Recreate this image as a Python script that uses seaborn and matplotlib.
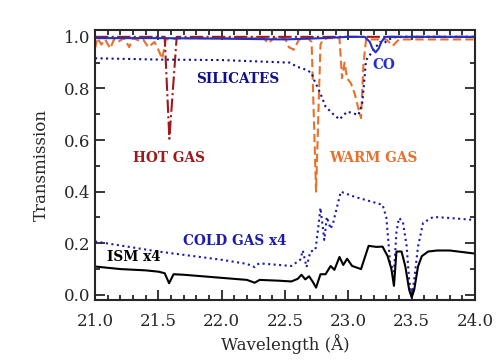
import matplotlib
matplotlib.use("Agg")
import matplotlib.pyplot as plt
from matplotlib.ticker import MultipleLocator
import seaborn as sns

# ISM x4 (black solid)
ism_x = [21.0, 21.2, 21.4, 21.5, 21.55, 21.585, 21.62, 21.7, 21.8, 22.0, 22.2, 22.26, 22.3,
         22.45, 22.55, 22.6, 22.63, 22.66, 22.69, 22.72, 22.745, 22.78, 22.82, 22.86, 22.89,
         22.93, 22.96, 22.99, 23.03, 23.1, 23.16, 23.22, 23.27, 23.31, 23.34, 23.36, 23.38,
         23.42, 23.45, 23.48, 23.5, 23.52, 23.55, 23.58, 23.63, 23.7, 23.8, 24.0]
ism_y = [0.11, 0.10, 0.095, 0.09, 0.084, 0.045, 0.08, 0.078, 0.074, 0.066, 0.058, 0.047, 0.058,
         0.055, 0.052, 0.062, 0.078, 0.06, 0.072, 0.05, 0.028, 0.08, 0.08, 0.112, 0.097,
         0.147, 0.116, 0.14, 0.112, 0.10, 0.19, 0.186, 0.187, 0.15, 0.10, 0.035, 0.168,
         0.168, 0.11, 0.02, -0.01, 0.02, 0.11, 0.15, 0.168, 0.172, 0.172, 0.16]

# COLD GAS x4 (blue dotted)
cold_x = [21.0, 21.5, 22.0, 22.2, 22.26, 22.28, 22.3, 22.55, 22.62, 22.64, 22.67, 22.70, 22.74,
          22.76, 22.78, 22.81, 22.83, 22.86, 22.88, 22.94, 23.05, 23.27, 23.30, 23.33, 23.36,
          23.38, 23.40, 23.43, 23.46, 23.48, 23.50, 23.52, 23.55, 23.59, 23.67, 23.8, 24.0]
cold_y = [0.207, 0.168, 0.136, 0.12, 0.108, 0.118, 0.122, 0.112, 0.136, 0.172, 0.108, 0.168, 0.174,
          0.25, 0.337, 0.213, 0.302, 0.256, 0.279, 0.40, 0.38, 0.349, 0.30, 0.124, 0.09,
          0.245, 0.298, 0.284, 0.19, 0.06, -0.01, 0.06, 0.187, 0.279, 0.302, 0.298, 0.29]

# SILICATES (navy dotted)
sil_x = [21.0, 21.5, 22.0, 22.54, 22.59, 22.67, 22.71, 22.73, 22.78, 22.82, 22.87, 22.93, 22.99,
         23.03, 23.08, 23.11, 23.14, 23.2, 23.25, 23.28, 23.32, 23.36, 23.45, 24.0]
sil_y = [0.917, 0.912, 0.91, 0.90, 0.885, 0.872, 0.86, 0.833, 0.78, 0.73, 0.705, 0.68, 0.71,
         0.705, 0.697, 0.744, 0.91, 0.95, 0.98, 0.975, 0.99, 0.998, 1.0, 1.0]

# CO (blue solid)
co_x = [21.0, 21.5, 22.0, 22.5, 22.8, 23.0, 23.13, 23.17, 23.19, 23.215, 23.24, 23.26, 23.29, 23.5, 24.0]
co_y = [0.995, 0.995, 0.993, 0.99, 0.995, 1.0, 1.0, 0.98, 0.955, 0.94, 0.955, 0.98, 1.0, 1.0, 1.0]

# WARM GAS (orange dashed)
warm_x = [21.0, 21.02, 21.05, 21.08, 21.12, 21.15, 21.18, 21.23, 21.27, 21.3, 21.35, 21.38,
          21.42, 21.47, 21.5, 21.53, 21.56, 21.7, 22.0, 22.33, 22.37, 22.41, 22.5, 22.53,
          22.57, 22.61, 22.68, 22.71, 22.745, 22.78, 22.8, 22.84, 22.93, 22.95, 22.97, 22.99,
          23.02, 23.05, 23.08, 23.10, 23.12, 23.14, 23.3, 23.35, 23.4, 24.0]
warm_y = [0.955, 0.995, 0.97, 0.99, 0.955, 0.99, 0.98, 0.995, 0.96, 0.995, 0.985, 0.99,
          0.96, 0.98, 0.95, 0.915, 0.99, 0.995, 0.995, 0.995, 0.975, 0.995, 0.995, 0.96,
          0.95, 0.99, 0.995, 0.98, 0.40, 0.97, 0.99, 0.995, 0.995, 0.84, 0.9, 0.84,
          0.82, 0.78, 0.72, 0.685, 0.9, 0.99, 0.99, 0.965, 0.99, 0.99]

# HOT GAS (dark red dash-dot)
hot_x = [21.0, 21.5, 21.55, 21.587, 21.645, 21.7, 24.0]
hot_y = [1.0, 1.0, 1.0, 0.605, 1.0, 1.0, 1.0]

sns.set_style("ticks")
plt.rcParams['font.family'] = ['DejaVu Serif']

fig = plt.figure(figsize=(5.04, 3.6), dpi=100)
ax = fig.add_axes([0.1885, 0.168, 0.754, 0.749])

sns.lineplot(x=warm_x, y=warm_y, ax=ax, color='#e8702a', linestyle=(0, (4, 2)), linewidth=1.5)
sns.lineplot(x=hot_x, y=hot_y, ax=ax, color='#a01818', linestyle='-.', linewidth=1.5)
sns.lineplot(x=sil_x, y=sil_y, ax=ax, color='#10108c', linestyle=':', linewidth=1.5)
sns.lineplot(x=co_x, y=co_y, ax=ax, color='#2030c8', linestyle='-', linewidth=1.5)
sns.lineplot(x=cold_x, y=cold_y, ax=ax, color='#1a1ab0', linestyle=':', linewidth=1.5)
sns.lineplot(x=ism_x, y=ism_y, ax=ax, color='black', linestyle='-', linewidth=1.5)

ax.set_xlim(21.0, 24.0)
ax.set_ylim(-0.018, 1.027)
ax.xaxis.set_major_locator(MultipleLocator(0.5))
ax.xaxis.set_minor_locator(MultipleLocator(0.1))
ax.yaxis.set_major_locator(MultipleLocator(0.2))
ax.yaxis.set_minor_locator(MultipleLocator(0.1))
ax.xaxis.set_major_formatter(lambda v, p: f"{v:.1f}")
ax.yaxis.set_major_formatter(lambda v, p: f"{v:.1f}")
ax.tick_params(which='both', direction='in', top=True, right=True, width=1.3, labelsize=12)
ax.tick_params(which='major', length=7)
ax.tick_params(which='minor', length=3.5)
ax.tick_params(axis='x', which='major', pad=10)
for s in ax.spines.values():
    s.set_linewidth(1.5)

ax.set_xlabel("Wavelength (Å)", fontsize=12, labelpad=3)
ax.set_ylabel("Transmission", fontsize=12, labelpad=10)

lab = dict(ha='left', va='center', fontsize=9.8, fontweight='bold')
ax.text(21.797, 0.837, "SILICATES", color='#10108c', **lab)
ax.text(23.187, 0.89, "CO", color='#2030c8', **lab)
ax.text(21.30, 0.531, "HOT GAS", color='#a01818', **lab)
ax.text(22.847, 0.531, "WARM GAS", color='#e8702a', **lab)
ax.text(21.695, 0.209, "COLD GAS x4", color='#1a1ab0', **lab)
ax.text(21.095, 0.145, "ISM x4", color='black', **lab)

fig.savefig("out.png", dpi=100)
